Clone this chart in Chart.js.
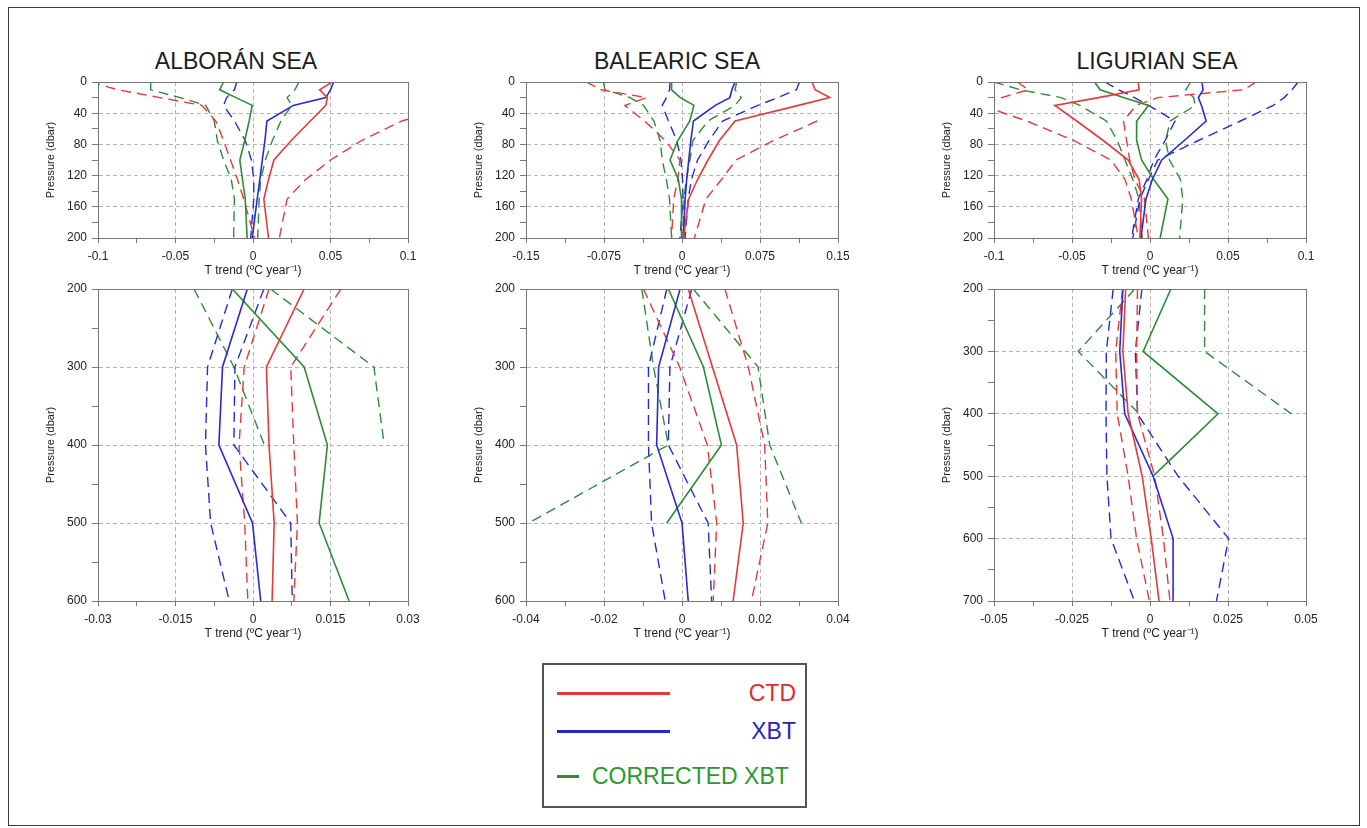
<!DOCTYPE html>
<html>
<head>
<meta charset="utf-8">
<script src="https://cdn.jsdelivr.net/npm/chart.js@4.4.1/dist/chart.umd.min.js"></script>
<style>
  body { margin: 0; background: #fff; font-family: "Liberation Sans", Arial, sans-serif; }
  #page { position: relative; width: 1367px; height: 828px; overflow: hidden; background: #fff; }
  #frame { position: absolute; left: 8px; top: 7px; width: 1352px; height: 819px; border: 1px solid #3a3a3a; box-sizing: border-box; }
  #page canvas { position: absolute; }
  .sea { position: absolute; font-size: 23px; line-height: 28px; color: #1c1c1c; transform: translateX(-50%); white-space: nowrap; }
  #legend { position: absolute; left: 542px; top: 663px; width: 265px; height: 145px; border: 2px solid #555; box-sizing: border-box; }
  .key { position: absolute; height: 3px; }
  .keytext { position: absolute; font-size: 23px; line-height: 26px; white-space: nowrap; }
</style>
</head>
<body>
<div id="page">
  <div id="frame"></div>
  <div class="sea" style="left:236px; top:47px">ALBORÁN SEA</div>
  <div class="sea" style="left:677px; top:47px">BALEARIC SEA</div>
  <div class="sea" style="left:1157px; top:47px">LIGURIAN SEA</div>

  <div id="legend"></div>
  <div class="key" style="left:557px; top:692px; width:113px; background:#e33b3b"></div>
  <div class="keytext" style="right:571px; top:680px; color:#e02b2b">CTD</div>
  <div class="key" style="left:557px; top:730px; width:113px; background:#2626cc"></div>
  <div class="keytext" style="right:571px; top:718px; color:#2626b8">XBT</div>
  <div class="key" style="left:557px; top:775px; width:22px; background:#2f8c36"></div>
  <div class="keytext" style="left:592px; top:763px; color:#2a9a30">CORRECTED XBT</div>
</div>

<script>
// pressure levels (dbar)
const upperPressure = [0, 10, 20, 30, 50, 75, 100, 125, 150, 200];
const lowerPressure = [200, 300, 400, 500, 600];
const ligurianLowerPressure = [200, 300, 400, 500, 600, 700];

// axis tick labels (minor ticks fall halfway between them)
const upperTrendTicks = ['-0.1', '-0.05', '0', '0.05', '0.1'];
const balearicUpperTrendTicks = ['-0.15', '-0.075', '0', '0.075', '0.15'];
const alboranLowerTrendTicks = ['-0.03', '-0.015', '0', '0.015', '0.03'];
const balearicLowerTrendTicks = ['-0.04', '-0.02', '0', '0.02', '0.04'];
const ligurianLowerTrendTicks = ['-0.05', '-0.025', '0', '0.025', '0.05'];
const upperPressureTicks = ['0', '40', '80', '120', '160', '200'];
const lowerPressureTicks = ['200', '300', '400', '500', '600'];
const ligurianLowerPressureTicks = ['200', '300', '400', '500', '600', '700'];

// Alborán Sea, 0-200 dbar: trend and confidence bounds (ºC/year)
const albUpCtd      = [0.051, 0.043, 0.048, 0.047, 0.037, 0.0247, 0.0135, 0.010, 0.007, 0.0100];
const albUpCtdLow   = [-0.105, -0.087, -0.060, -0.033, -0.024, -0.019, -0.0145, -0.010, -0.006, 0.001];
const albUpCtdHigh  = [null, null, null, 0.13, 0.096, 0.070, 0.050, 0.034, 0.022, 0.017];
const albUpXbt      = [0.052, 0.050, 0.047, 0.026, 0.009, 0.0077, 0.006, 0.0044, 0.0027, -0.0005];
const albUpXbtLow   = [-0.0105, -0.012, -0.017, -0.019, -0.012, -0.005, -0.001, 0.0005, 0.0005, -0.0015];
const albUpCorr     = [-0.019, -0.0215, -0.011, -0.0005, -0.0025, -0.0053, -0.0085, -0.0068, -0.005, -0.0038];
const albUpCorrLow  = [-0.066, -0.066, -0.047, -0.0305, -0.025, -0.023, -0.019, -0.014, -0.012, -0.0125];
const albUpCorrHigh = [0.0297, 0.027, 0.022, 0.025, 0.018, 0.0125, 0.008, 0.005, 0.004, 0.003];

// Balearic Sea, 0-200 dbar
const balUpCtd      = [0.125, 0.128, 0.142, 0.112, 0.051, 0.036, 0.025, 0.015, 0.0064, 0.0015];
const balUpCtdLow   = [-0.092, -0.078, -0.034, -0.055, -0.036, -0.016, -0.002, -0.004, -0.008, -0.010];
const balUpCtdHigh  = [null, null, null, null, 0.13, 0.088, 0.052, 0.038, 0.023, 0.012];
const balUpXbt      = [0.051, 0.048, 0.046, 0.032, 0.011, 0.0085, 0.0065, 0.0045, 0.003, 0.0013];
const balUpXbtLow   = [-0.0115, -0.012, -0.015, -0.019, -0.013, -0.005, -0.001, 0.0005, 0.001, -0.002];
const balUpXbtHigh  = [0.113, 0.110, 0.092, 0.073, 0.039, 0.026, 0.015, 0.009, 0.006, 0.003];
const balUpCorr     = [-0.010, -0.010, -0.0016, 0.0115, 0.0075, -0.004, -0.0115, -0.0035, -0.0005, -0.0005];
const balUpCorrLow  = [-0.0756, -0.074, -0.050, -0.037, -0.027, -0.021, -0.019, -0.015, -0.012, -0.010];
const balUpCorrHigh = [0.0526, 0.051, 0.057, 0.051, 0.025, 0.0105, 0.0077, 0.004, 0.002, 0.001];

// Ligurian Sea, 0-200 dbar
const ligUpCtd      = [-0.0075, -0.007, -0.033, -0.061, -0.047, -0.030, -0.014, -0.007, -0.0054, -0.0065];
const ligUpCtdLow   = [-0.085, -0.078, -0.095, -0.108, -0.079, -0.049, -0.025, -0.016, -0.012, -0.0075];
const ligUpCtdHigh  = [0.068, 0.060, 0.005, -0.009, -0.017, -0.015, -0.013, -0.0097, -0.0035, -0.001];
const ligUpXbt      = [0.0333, 0.034, 0.031, 0.033, 0.036, 0.022, 0.0075, 0.0015, -0.0026, -0.0058];
const ligUpXbtLow   = [-0.029, -0.020, -0.010, -0.001, 0.016, 0.0097, 0.0025, -0.002, -0.0075, -0.0118];
const ligUpXbtHigh  = [0.095, 0.091, 0.086, 0.079, 0.058, 0.031, 0.005, -0.001, -0.0065, -0.011];
const ligUpCorr     = [-0.0355, -0.032, -0.017, -0.001, -0.0085, -0.0086, -0.0054, 0.0024, 0.0115, 0.0065];
const ligUpCorrLow  = [-0.100, -0.083, -0.057, -0.045, -0.028, -0.021, -0.016, -0.011, -0.007, -0.005];
const ligUpCorrHigh = [0.026, 0.023, 0.028, 0.029, 0.013, 0.010, 0.0125, 0.0195, 0.021, 0.019];

// Alborán Sea, 200-600 dbar
const albLoCtd      = [0.0099, 0.0026, 0.0031, 0.0041, 0.0037];
const albLoCtdLow   = [0.0031, -0.0017, -0.0027, -0.0016, -0.0010];
const albLoCtdHigh  = [0.0170, 0.0073, 0.0079, 0.0086, 0.0079];
const albLoXbt      = [-0.0011, -0.0059, -0.0066, -0.0001, 0.0015];
const albLoXbtLow   = [-0.0040, -0.0088, -0.0092, -0.0082, -0.0046];
const albLoXbtHigh  = [0.0021, -0.0035, -0.0037, 0.0073, 0.0076];
const albLoCorr     = [-0.0040, 0.0099, 0.0144, 0.0128, 0.0186];
const albLoCorrLow  = [-0.0114, -0.0037, 0.0022, null, null];
const albLoCorrHigh = [0.0034, 0.0234, 0.0254, null, null];

// Balearic Sea, 200-600 dbar
const balLoCtd      = [0.0016, 0.0078, 0.0140, 0.0157, 0.0131];
const balLoCtdLow   = [-0.0099, -0.0006, 0.0065, 0.0089, 0.0080];
const balLoCtdHigh  = [0.0110, 0.0170, 0.0212, 0.0220, 0.0178];
const balLoXbt      = [-0.0005, -0.0060, -0.0065, 0.0000, 0.0016];
const balLoXbtLow   = [-0.0039, -0.0086, -0.0086, -0.0078, -0.0043];
const balLoXbtHigh  = [0.0025, -0.0031, -0.0035, 0.0067, 0.0076];
const balLoCorr     = [-0.0035, 0.0055, 0.0101, -0.0039, null];
const balLoCorrLow  = [-0.0103, -0.0073, -0.0035, -0.0393, null];
const balLoCorrHigh = [0.0029, 0.0195, 0.0225, 0.0306, null];

// Ligurian Sea, 200-700 dbar
const ligLoCtd      = [-0.0078, -0.0087, -0.0070, -0.0025, 0.0004, 0.0029];
const ligLoCtdLow   = [-0.0088, -0.0110, -0.0105, -0.0070, -0.0043, -0.0002];
const ligLoCtdHigh  = [-0.0040, -0.0043, -0.0040, 0.0015, 0.0043, 0.0064];
const ligLoXbt      = [-0.0087, -0.0097, -0.0081, 0.0010, 0.0074, 0.0074];
const ligLoXbtLow   = [-0.0118, -0.0140, -0.0141, -0.0138, -0.0125, -0.0050];
const ligLoXbtHigh  = [-0.0026, -0.0047, -0.0040, 0.0090, 0.0252, 0.0213];
const ligLoCorr     = [0.0067, -0.0022, 0.0218, 0.0010, null, null];
const ligLoCorrLow  = [-0.0049, -0.0230, -0.0035, null, null, null];
const ligLoCorrHigh = [0.0175, 0.0175, 0.0453, null, null, null];

const COLORS = { ctd: '#e33b3b', xbt: '#2a2ad0', corr: '#2f8c36' };
const AXIS_W = 60, AXIS_H = 48, PAD_T = 14, PAD_R = 24;

const panels = [
  { left: 98, top: 82, width: 310, height: 156, pressure: upperPressure,
    xTicks: upperTrendTicks, yTicks: upperPressureTicks,
    solid: [[albUpCtd, 'ctd'], [albUpXbt, 'xbt'], [albUpCorr, 'corr']],
    bounds: [[albUpCtdLow, 'ctd'], [albUpCtdHigh, 'ctd'], [albUpXbtLow, 'xbt'],
             [albUpCorrLow, 'corr'], [albUpCorrHigh, 'corr']] },
  { left: 526, top: 82, width: 312, height: 156, pressure: upperPressure,
    xTicks: balearicUpperTrendTicks, yTicks: upperPressureTicks,
    solid: [[balUpCtd, 'ctd'], [balUpXbt, 'xbt'], [balUpCorr, 'corr']],
    bounds: [[balUpCtdLow, 'ctd'], [balUpCtdHigh, 'ctd'], [balUpXbtLow, 'xbt'], [balUpXbtHigh, 'xbt'],
             [balUpCorrLow, 'corr'], [balUpCorrHigh, 'corr']] },
  { left: 994, top: 82, width: 312, height: 156, pressure: upperPressure,
    xTicks: upperTrendTicks, yTicks: upperPressureTicks,
    solid: [[ligUpCtd, 'ctd'], [ligUpXbt, 'xbt'], [ligUpCorr, 'corr']],
    bounds: [[ligUpCtdLow, 'ctd'], [ligUpCtdHigh, 'ctd'], [ligUpXbtLow, 'xbt'], [ligUpXbtHigh, 'xbt'],
             [ligUpCorrLow, 'corr'], [ligUpCorrHigh, 'corr']] },
  { left: 98, top: 289, width: 310, height: 312, pressure: lowerPressure,
    xTicks: alboranLowerTrendTicks, yTicks: lowerPressureTicks,
    solid: [[albLoCtd, 'ctd'], [albLoXbt, 'xbt'], [albLoCorr, 'corr']],
    bounds: [[albLoCtdLow, 'ctd'], [albLoCtdHigh, 'ctd'], [albLoXbtLow, 'xbt'], [albLoXbtHigh, 'xbt'],
             [albLoCorrLow, 'corr'], [albLoCorrHigh, 'corr']] },
  { left: 526, top: 289, width: 312, height: 312, pressure: lowerPressure,
    xTicks: balearicLowerTrendTicks, yTicks: lowerPressureTicks,
    solid: [[balLoCtd, 'ctd'], [balLoXbt, 'xbt'], [balLoCorr, 'corr']],
    bounds: [[balLoCtdLow, 'ctd'], [balLoCtdHigh, 'ctd'], [balLoXbtLow, 'xbt'], [balLoXbtHigh, 'xbt'],
             [balLoCorrLow, 'corr'], [balLoCorrHigh, 'corr']] },
  { left: 994, top: 289, width: 312, height: 312, pressure: ligurianLowerPressure,
    xTicks: ligurianLowerTrendTicks, yTicks: ligurianLowerPressureTicks,
    solid: [[ligLoCtd, 'ctd'], [ligLoXbt, 'xbt'], [ligLoCorr, 'corr']],
    bounds: [[ligLoCtdLow, 'ctd'], [ligLoCtdHigh, 'ctd'], [ligLoXbtLow, 'xbt'], [ligLoXbtHigh, 'xbt'],
             [ligLoCorrLow, 'corr'], [ligLoCorrHigh, 'corr']] }
];

// frame round the plot area
const plotFrame = {
  id: 'plotFrame',
  afterDatasetsDraw(chart) {
    const { ctx, chartArea: a } = chart;
    ctx.save();
    ctx.strokeStyle = '#777';
    ctx.lineWidth = 1;
    ctx.strokeRect(Math.round(a.left) + 0.5, Math.round(a.top) + 0.5, Math.round(a.width), Math.round(a.height));
    ctx.restore();
  }
};

function profile(values, pressure, kind, dashed) {
  const points = [];
  values.forEach((v, i) => { if (v !== null) points.push({ x: v, y: pressure[i] }); });
  return {
    data: points,
    showLine: true,
    borderColor: COLORS[kind],
    borderWidth: dashed ? 1.4 : 1.6,
    borderDash: dashed ? [10, 6] : [],
    pointRadius: 0,
    pointHoverRadius: 0,
    tension: 0
  };
}

function axis(labels, horizontal, titleText) {
  const min = Number(labels[0]), max = Number(labels[labels.length - 1]);
  const n = 2 * (labels.length - 1);
  const step = (max - min) / n;
  return {
    type: 'linear',
    min: min, max: max,
    reverse: !horizontal,
    afterFit: s => { if (horizontal) s.height = AXIS_H; else s.width = AXIS_W; },
    afterBuildTicks: s => {
      const t = [];
      for (let i = 0; i <= n; i++) t.push({ value: min + i * step });
      s.ticks = t;
    },
    ticks: {
      autoSkip: false, maxRotation: 0, minRotation: 0,
      padding: horizontal ? 6 : 5,
      color: '#222',
      font: { family: '"Liberation Sans", Arial, sans-serif', size: 12 },
      callback: (v, i) => (i % 2 === 0 ? labels[i / 2] : '')
    },
    grid: {
      color: c => (c.index % 2 === 0 && c.index > 0 && c.index < n) ? '#b4b4b4' : 'rgba(0,0,0,0)',
      lineWidth: 1,
      tickColor: '#777',
      tickLength: horizontal ? 5 : 6
    },
    border: { display: true, color: '#777', width: 1, dash: [4, 3] },
    title: {
      display: true,
      text: titleText,
      color: '#222',
      font: { family: '"Liberation Sans", Arial, sans-serif', size: horizontal ? 12 : 11 },
      padding: horizontal ? { top: 0, bottom: 8 } : { top: 6, bottom: 0 }
    }
  };
}

const page = document.getElementById('page');

panels.forEach(p => {
  const canvas = document.createElement('canvas');
  const w = p.width + AXIS_W + PAD_R, h = p.height + PAD_T + AXIS_H;
  canvas.width = w;
  canvas.height = h;
  canvas.style.left = (p.left - AXIS_W) + 'px';
  canvas.style.top = (p.top - PAD_T) + 'px';
  canvas.style.width = w + 'px';
  canvas.style.height = h + 'px';
  page.appendChild(canvas);

  const datasets = p.solid.map(s => profile(s[0], p.pressure, s[1], false))
    .concat(p.bounds.map(s => profile(s[0], p.pressure, s[1], true)));

  new Chart(canvas, {
    type: 'scatter',
    data: { datasets: datasets },
    options: {
      responsive: false,
      animation: false,
      devicePixelRatio: 1,
      layout: { padding: { top: PAD_T, right: PAD_R, left: 0, bottom: 0 } },
      plugins: { legend: { display: false }, tooltip: { enabled: false } },
      scales: {
        x: axis(p.xTicks, true, 'T trend (ºC year⁻¹)'),
        y: axis(p.yTicks, false, 'Pressure (dbar)')
      }
    },
    plugins: [plotFrame]
  });
});
</script>
</body>
</html>
